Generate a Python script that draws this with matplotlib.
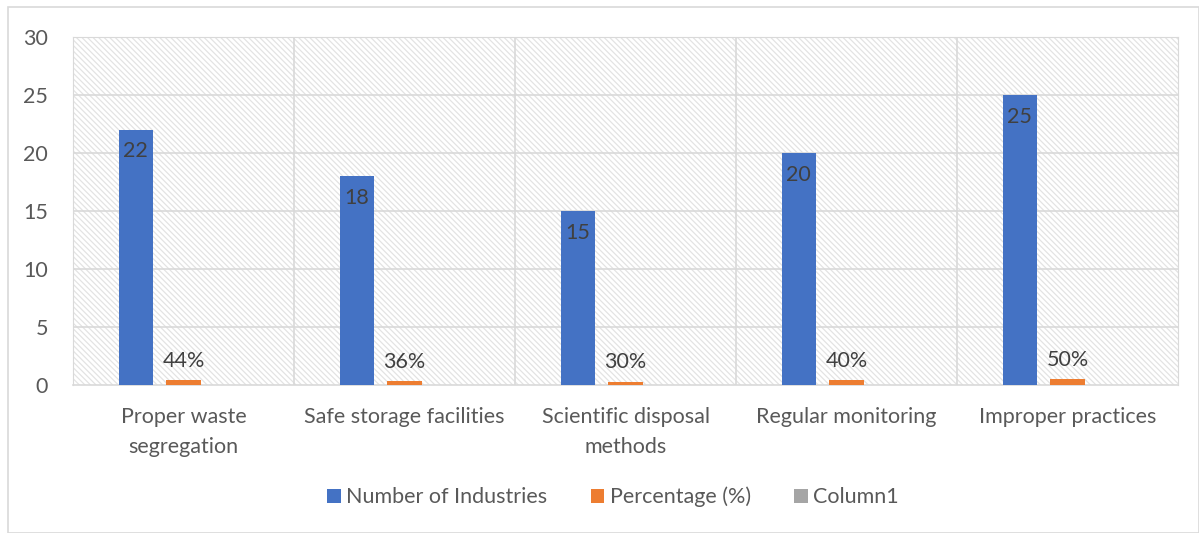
import matplotlib.pyplot as plt
import matplotlib.patches as mpatches
import numpy as np

categories = ["Proper waste\nsegregation", "Safe storage facilities",
              "Scientific disposal\nmethods", "Regular monitoring",
              "Improper practices"]
industries = [22, 18, 15, 20, 25]
percentages = [0.44, 0.36, 0.30, 0.40, 0.50]
column1 = [0, 0, 0, 0, 0]

blue = "#4472C4"
orange = "#ED7D31"
gray = "#A5A5A5"
text_col = "#595959"

plt.rcParams["font.family"] = ["Lato", "DejaVu Sans"]
plt.rcParams["hatch.color"] = "#E3E3E3"
plt.rcParams["hatch.linewidth"] = 0.9

fig = plt.figure(figsize=(11.99, 5.33), dpi=100)
ax = fig.add_axes([73 / 1199, 1 - 385 / 533, (1178 - 73) / 1199, (385 - 37) / 533])

# chart border
fig.patches.append(mpatches.Rectangle((8 / 1199, 0), 1 - 8 / 1199, 1 - 7 / 533,
                                      transform=fig.transFigure, fill=False,
                                      edgecolor="#D9D9D9", linewidth=1.2))

x = np.arange(len(categories))
w = 0.154
off = 0.217
fs = 15.5

# hatched background
ax.add_patch(mpatches.Rectangle((0, 0), 1, 1, transform=ax.transAxes, facecolor="white",
                                hatch="\\\\\\\\\\\\", edgecolor="#E3E3E3", linewidth=0, zorder=0))

b1 = ax.bar(x - off, industries, w, color=blue, label="Number of Industries", zorder=3)
b2 = ax.bar(x, percentages, w, color=orange, label="Percentage (%)", zorder=3)
b3 = ax.bar(x + off, column1, w, color=gray, label="Column1", zorder=3)

for xi, v in zip(x, industries):
    ax.text(xi - off, v - 1.0, str(v), ha="center", va="top", fontsize=fs, color="#404040", zorder=4)
for xi, v in zip(x, percentages):
    ax.text(xi, v + 0.8, f"{int(round(v * 100))}%", ha="center", va="bottom", fontsize=fs,
            color="#404040", zorder=4)

ax.set_xlim(-0.5, len(categories) - 0.5)
ax.set_ylim(0, 30)
ax.set_yticks(range(0, 31, 5))
ax.set_xticks(x)
ax.set_xticklabels(categories, fontsize=fs, color=text_col, linespacing=1.6)
ax.tick_params(axis="y", labelsize=fs, labelcolor=text_col, length=0, pad=18)
ax.tick_params(axis="x", length=0, pad=16)

for yv in range(5, 31, 5):
    ax.axhline(yv, color="#D9D9D9", linewidth=1.2, zorder=1)
for xv in np.arange(0.5, len(categories) - 0.5, 1):
    ax.axvline(xv, color="#D9D9D9", linewidth=1.2, zorder=1)

for s in ["top", "right", "left"]:
    ax.spines[s].set_color("#D9D9D9")
ax.spines["bottom"].set_color("#D9D9D9")
ax.spines["bottom"].set_linewidth(1.2)

fig.legend(handles=[b1, b2, b3], loc="center", bbox_to_anchor=(613 / 1199, 1 - 497 / 533),
           ncol=3, frameon=False, fontsize=fs, labelcolor=text_col,
           handlelength=0.65, handleheight=0.65, handletextpad=0.25, columnspacing=2.0)

fig.savefig("out.png", dpi=100)
